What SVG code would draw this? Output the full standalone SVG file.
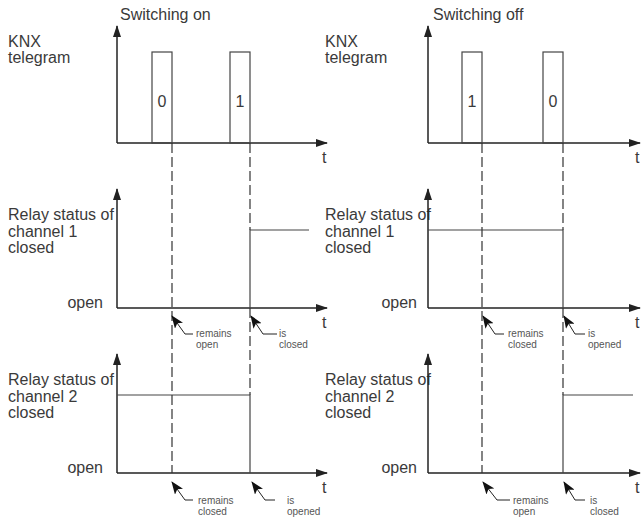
<svg xmlns="http://www.w3.org/2000/svg" width="642" height="520" viewBox="0 0 642 520">
<defs>
<marker id="ax" markerUnits="userSpaceOnUse" markerWidth="12" markerHeight="8" refX="11" refY="4" orient="auto"><path d="M0,0 L12,4 L0,8 z" fill="#222"/></marker>
<marker id="an" markerUnits="userSpaceOnUse" markerWidth="13" markerHeight="10" refX="12" refY="5" orient="auto"><path d="M0,0 L13,5 L0,10 L3,5 z" fill="#111"/></marker>
<style>
.t{font-family:"Liberation Sans",Arial,sans-serif;font-size:16px;fill:#3a3a3a}
.s{font-family:"Liberation Sans",Arial,sans-serif;font-size:10px;fill:#555}
.axis{stroke:#222;stroke-width:1.5;fill:none}
.ln{stroke:#444;stroke-width:1.2;fill:none}
.dash{stroke:#333;stroke-width:1.2;stroke-dasharray:10 4;fill:none}
.ann{stroke:#222;stroke-width:1;fill:none}
</style>
</defs>
<rect width="642" height="520" fill="#fff"/>

<g id="titles">
<text class="t" x="120" y="20">Switching on</text>
<text class="t" x="433" y="20">Switching off</text>
</g>

<g id="left-telegram">
<text class="t" x="8" y="47">KNX</text>
<text class="t" x="8" y="63">telegram</text>
<path class="axis" d="M117,143 V26" marker-end="url(#ax)"/>
<path class="axis" d="M117,143 H327" marker-end="url(#ax)"/>
<rect class="ln" x="152" y="52" width="20" height="91"/>
<rect class="ln" x="230" y="52" width="20" height="91"/>
<text class="t" x="162" y="107" text-anchor="middle">0</text>
<text class="t" x="240" y="107" text-anchor="middle">1</text>
<text class="t" x="322" y="163">t</text>
</g>

<g id="right-telegram">
<text class="t" x="325" y="47">KNX</text>
<text class="t" x="325" y="63">telegram</text>
<path class="axis" d="M428,143 V26" marker-end="url(#ax)"/>
<path class="axis" d="M428,143 H640" marker-end="url(#ax)"/>
<rect class="ln" x="462" y="52" width="20" height="91"/>
<rect class="ln" x="543" y="52" width="20" height="91"/>
<text class="t" x="472" y="107" text-anchor="middle">1</text>
<text class="t" x="553" y="107" text-anchor="middle">0</text>
<text class="t" x="635" y="163">t</text>
</g>

<g id="left-ch1">
<text class="t" x="8" y="220">Relay status of</text>
<text class="t" x="8" y="237">channel 1</text>
<text class="t" x="8" y="253">closed</text>
<text class="t" x="103" y="308" text-anchor="end">open</text>
<path class="axis" d="M117,308 V189" marker-end="url(#ax)"/>
<path class="axis" d="M117,308 H327" marker-end="url(#ax)"/>
<path class="ln" d="M250,308 V230 H309"/>
<text class="t" x="322" y="328">t</text>
</g>

<g id="right-ch1">
<text class="t" x="325" y="220">Relay status of</text>
<text class="t" x="325" y="237">channel 1</text>
<text class="t" x="325" y="253">closed</text>
<text class="t" x="417" y="308" text-anchor="end">open</text>
<path class="axis" d="M428,308 V189" marker-end="url(#ax)"/>
<path class="axis" d="M428,308 H640" marker-end="url(#ax)"/>
<path class="ln" d="M428,230 H563 V308"/>
<text class="t" x="635" y="328">t</text>
</g>

<g id="left-ch2">
<text class="t" x="8" y="385">Relay status of</text>
<text class="t" x="8" y="402">channel 2</text>
<text class="t" x="8" y="418">closed</text>
<text class="t" x="103" y="473" text-anchor="end">open</text>
<path class="axis" d="M117,473 V354" marker-end="url(#ax)"/>
<path class="axis" d="M117,473 H327" marker-end="url(#ax)"/>
<path class="ln" d="M117,395 H250 V473"/>
<text class="t" x="322" y="493">t</text>
</g>

<g id="right-ch2">
<text class="t" x="325" y="385">Relay status of</text>
<text class="t" x="325" y="402">channel 2</text>
<text class="t" x="325" y="418">closed</text>
<text class="t" x="417" y="473" text-anchor="end">open</text>
<path class="axis" d="M428,473 V354" marker-end="url(#ax)"/>
<path class="axis" d="M428,473 H640" marker-end="url(#ax)"/>
<path class="ln" d="M563,473 V395 H633"/>
<text class="t" x="635" y="493">t</text>
</g>

<g id="connectors">
<path class="dash" d="M172,143 V473"/>
<path class="dash" d="M250,143 V230 M250,308 V395"/>
<path class="dash" d="M482,143 V473"/>
<path class="dash" d="M563,143 V230 M563,308 V395"/>

<path class="ann" d="M193,334 H185 L172,316" marker-end="url(#an)"/>
<path class="ann" d="M277,334 H263 L251,316" marker-end="url(#an)"/>
<path class="ann" d="M504,334 H495 L483,316" marker-end="url(#an)"/>
<path class="ann" d="M585,334 H575 L564,316" marker-end="url(#an)"/>
<path class="ann" d="M193,500 H185 L172,482" marker-end="url(#an)"/>
<path class="ann" d="M275,500 H265 L252,482" marker-end="url(#an)"/>
<path class="ann" d="M510,500 H497 L483,482" marker-end="url(#an)"/>
<path class="ann" d="M585,500 H575 L564,482" marker-end="url(#an)"/>
</g>

<g id="labels">
<text class="s" x="196" y="337">remains</text>
<text class="s" x="196" y="348">open</text>
<text class="s" x="279" y="337">is</text>
<text class="s" x="279" y="348">closed</text>
<text class="s" x="508" y="337">remains</text>
<text class="s" x="508" y="348">closed</text>
<text class="s" x="588" y="337">is</text>
<text class="s" x="588" y="348">opened</text>
<text class="s" x="198" y="504">remains</text>
<text class="s" x="198" y="515">closed</text>
<text class="s" x="287" y="504">is</text>
<text class="s" x="287" y="515">opened</text>
<text class="s" x="513" y="504">remains</text>
<text class="s" x="513" y="515">open</text>
<text class="s" x="590" y="504">is</text>
<text class="s" x="590" y="515">closed</text>
</g>
</svg>
